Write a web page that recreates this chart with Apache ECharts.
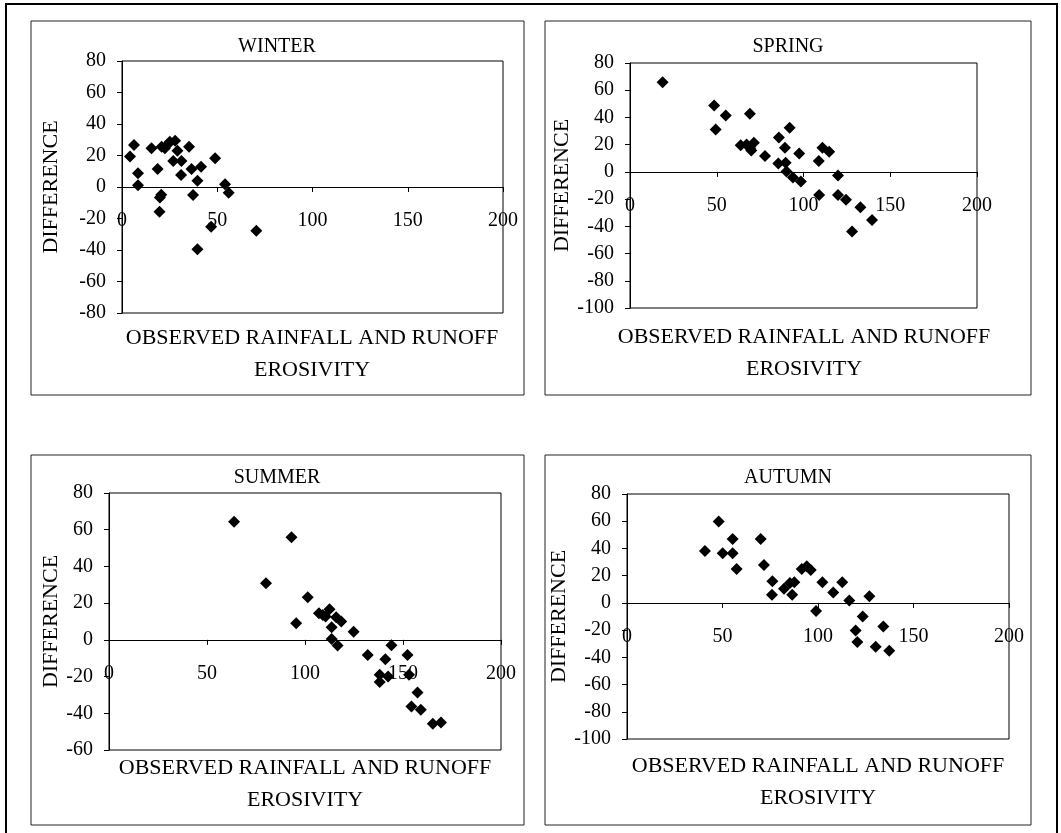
<!DOCTYPE html>
<html>
<head>
<meta charset="utf-8">
<script src="https://cdn.jsdelivr.net/npm/echarts/dist/echarts.min.js"></script>
<style>
  html, body { margin: 0; padding: 0; background: #fff; }
  #chart { width: 1061px; height: 833px; }
</style>
</head>
<body>
<div id="chart"></div>
<script>
// ---- Data ----
const seasonTitles = ['WINTER', 'SPRING', 'SUMMER', 'AUTUMN'];
const xAxisTitle = 'OBSERVED RAINFALL AND RUNOFF\nEROSIVITY';
const yAxisTitle = 'DIFFERENCE';

const xTicks = { min: 0, max: 200, interval: 50 };
const yRanges = [
  { min: -80, max: 80, interval: 20 },
  { min: -100, max: 80, interval: 20 },
  { min: -60, max: 80, interval: 20 },
  { min: -100, max: 80, interval: 20 }
];

const winterX = [4.2, 6.3, 8.4, 8.4, 15.5, 18.7, 20.8, 19.9, 20.6, 19.7, 22.5, 23.7, 25.1, 27.9, 26.9, 29.1, 31.2, 31.0, 35.2, 36.5, 37.3, 39.6, 41.5, 39.6, 46.8, 48.9, 54.1, 56.0, 70.5];
const winterY = [19.3, 26.7, 8.7, 1.1, 24.6, 11.4, 25.6, -6.6, -4.9, -15.7, 24.6, 26.7, 28.8, 29.4, 16.5, 23.0, 16.5, 7.6, 25.6, 11.4, -5.1, 4.0, 12.9, -39.6, -25.2, 18.2, 1.7, -3.6, -27.7];

const springX = [18.8, 48.5, 49.4, 55.2, 69.1, 63.8, 67.2, 69.9, 71.4, 69.3, 77.8, 85.8, 85.5, 89.7, 92.0, 89.3, 90.2, 93.9, 97.5, 98.5, 108.8, 110.9, 114.8, 109.0, 119.9, 119.9, 124.5, 132.8, 139.5, 128.0];
const springY = [65.9, 48.7, 31.2, 41.4, 42.8, 19.5, 20.2, 15.8, 21.4, 17.3, 11.7, 25.3, 6.1, 6.8, 32.4, 17.8, 0.2, -4.1, 13.6, -7.1, 8.0, 17.8, 14.8, -17.0, -2.7, -17.0, -20.4, -26.0, -35.3, -43.8];

const summerX = [63.8, 93.1, 80.1, 101.4, 95.5, 107.1, 109.1, 110.5, 112.5, 115.9, 118.5, 113.6, 113.6, 116.6, 124.8, 132.0, 144.1, 141.0, 138.1, 138.1, 142.4, 152.3, 153.1, 157.4, 154.3, 159.1, 165.2, 169.4];
const summerY = [64.4, 55.9, 30.8, 23.2, 9.1, 14.5, 13.6, 12.7, 16.7, 12.3, 10.0, 6.9, 0.5, -3.1, 4.4, -8.2, -2.9, -10.5, -19.0, -23.0, -20.0, -8.2, -19.0, -28.7, -36.3, -38.1, -45.7, -45.0];

const autumnX = [40.8, 48.0, 50.1, 55.3, 55.3, 57.4, 70.0, 71.7, 76.1, 75.9, 82.2, 85.3, 87.6, 86.5, 91.5, 94.1, 96.2, 99.0, 102.3, 108.0, 112.7, 116.4, 126.9, 123.4, 119.7, 120.6, 134.2, 130.2, 137.3];
const autumnY = [38.1, 59.8, 36.4, 46.9, 36.4, 24.9, 46.9, 27.8, 15.9, 5.9, 10.3, 14.7, 15.1, 5.9, 24.9, 26.9, 24.2, -5.9, 15.1, 7.6, 15.1, 1.7, 4.9, -10.0, -20.3, -28.8, -17.3, -32.2, -35.2];

const seasonXs = [winterX, springX, summerX, autumnX];
const seasonYs = [winterY, springY, summerY, autumnY];

// ---- Layout (pixels) ----
const FONT = 'Liberation Serif, Times New Roman, serif';
const FS = 20;
const NAME_FS = 22;
const grids = [
  { left: 122, top: 61, width: 381, height: 252 },
  { left: 630, top: 63, width: 347, height: 245 },
  { left: 109, top: 493, width: 392, height: 257 },
  { left: 627, top: 494, width: 382, height: 245 }
];
const boxes = [
  { x: 31, y: 21, width: 493, height: 374 },
  { x: 545, y: 21, width: 486, height: 374 },
  { x: 31, y: 455, width: 493, height: 370 },
  { x: 545, y: 455, width: 486, height: 370 }
];
const titlePos = [[277, 47], [788, 47], [277, 478], [788, 478]];
const xNamePos = [[312, 354], [804, 353], [305, 784], [818, 782]];
const yNameGap = [60, 55, 47, 52];

const chart = echarts.init(document.getElementById('chart'), null, { renderer: 'canvas' });

const graphic = [
  { type: 'rect', shape: { x: 6, y: 4, width: 1051, height: 845 },
    style: { fill: 'none', stroke: '#000', lineWidth: 2 }, z: 0 }
];
boxes.forEach(b => graphic.push({ type: 'rect', shape: b,
  style: { fill: 'none', stroke: '#222', lineWidth: 1 }, z: 0 }));
seasonTitles.forEach((t, i) => graphic.push({ type: 'text', x: titlePos[i][0], y: titlePos[i][1],
  style: { text: t, font: FS + 'px ' + FONT, fill: '#000', align: 'center', verticalAlign: 'middle' }, z: 10 }));
xNamePos.forEach(p => graphic.push({ type: 'text', x: p[0], y: p[1],
  style: { text: xAxisTitle, font: NAME_FS + 'px ' + FONT, fill: '#000', align: 'center', verticalAlign: 'middle', lineHeight: 32 }, z: 10 }));

// Helper grids: their bottom edge sits on the y = 0 line of each panel, so the
// x axis (line, ticks, labels) is drawn where the value 0 falls.
const zeroGrids = grids.map((g, i) => {
  const r = yRanges[i];
  const h = g.height * r.max / (r.max - r.min);
  return { left: g.left, top: g.top, width: g.width, height: h, show: false };
});

const mainX = grids.map((g, i) => ({
  type: 'value', gridIndex: i, min: xTicks.min, max: xTicks.max, interval: xTicks.interval, show: false
}));
const zeroX = zeroGrids.map((g, i) => ({
  type: 'value', gridIndex: 4 + i, min: xTicks.min, max: xTicks.max, interval: xTicks.interval,
  position: 'bottom',
  axisLine: { show: true, onZero: false, lineStyle: { color: '#000', width: 1 } },
  axisTick: { show: true, length: 5, lineStyle: { color: '#000' } },
  axisLabel: { show: true, color: '#000', fontFamily: FONT, fontSize: FS, margin: 24 },
  splitLine: { show: false }
}));
const mainY = yRanges.map((r, i) => ({
  type: 'value', gridIndex: i, min: r.min, max: r.max, interval: r.interval,
  name: yAxisTitle, nameLocation: 'middle', nameRotate: 90, nameGap: yNameGap[i],
  nameTextStyle: { color: '#000', fontFamily: FONT, fontSize: NAME_FS },
  axisLine: { show: true, onZero: false, lineStyle: { color: '#000', width: 1 } },
  axisTick: { show: true, length: 5, lineStyle: { color: '#000' } },
  axisLabel: { show: true, color: '#000', fontFamily: FONT, fontSize: FS, margin: 16 },
  splitLine: { show: false }
}));
const zeroY = zeroGrids.map((g, i) => ({ type: 'value', gridIndex: 4 + i, min: 0, max: 1, show: false }));

const option = {
  animation: false,
  backgroundColor: '#fff',
  graphic: graphic,
  grid: grids.map(g => Object.assign({ show: true, borderColor: '#000', borderWidth: 1, backgroundColor: 'transparent', containLabel: false }, g))
    .concat(zeroGrids),
  xAxis: mainX.concat(zeroX),
  yAxis: mainY.concat(zeroY),
  series: seasonTitles.map((t, i) => ({
    name: t, type: 'scatter', xAxisIndex: i, yAxisIndex: i,
    symbol: 'diamond', symbolSize: 12, z: 5,
    itemStyle: { color: '#000', opacity: 1 },
    data: seasonXs[i].map((x, k) => [x, seasonYs[i][k]])
  }))
};
chart.setOption(option);
</script>
</body>
</html>
